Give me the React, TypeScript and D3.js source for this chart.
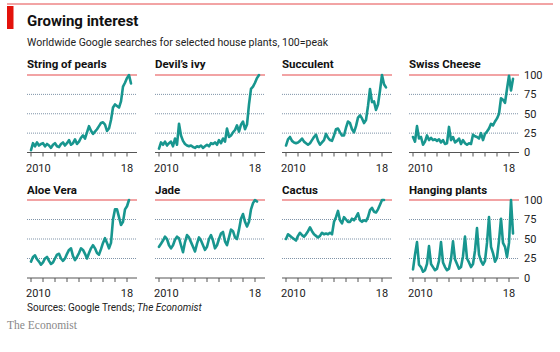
import React from "react";
import * as d3 from "d3";

const W = 560;
const H = 352;

const panelTitles = [
  "String of pearls",
  "Devil\u2019s ivy",
  "Succulent",
  "Swiss Cheese",
  "Aloe Vera",
  "Jade",
  "Cactus",
  "Hanging plants",
];

// bi-monthly index values, starting January 2010
const stringOfPearls = [3, 12, 8, 13, 9, 11, 12, 8, 11, 9, 6, 10, 12, 8, 7, 11, 13, 9, 12, 16, 10, 12, 17, 11, 14, 19, 22, 18, 26, 34, 28, 24, 27, 30, 34, 38, 39, 36, 28, 31, 42, 58, 62, 60, 58, 66, 85, 90, 96, 100, 89];
const devilsIvy = [5, 13, 10, 14, 9, 12, 14, 8, 18, 10, 37, 22, 15, 11, 9, 8, 9, 7, 6, 8, 7, 9, 6, 8, 10, 8, 12, 11, 13, 10, 16, 12, 18, 14, 31, 20, 22, 26, 29, 35, 27, 36, 40, 30, 36, 62, 82, 85, 90, 96, 100];
const succulent = [9, 17, 20, 15, 13, 12, 13, 15, 18, 14, 12, 10, 12, 16, 20, 23, 15, 10, 13, 16, 24, 19, 16, 15, 22, 30, 31, 26, 22, 22, 32, 40, 38, 30, 26, 34, 45, 48, 44, 38, 42, 60, 82, 65, 66, 55, 62, 80, 100, 88, 84];
const swissCheese = [20, 14, 34, 18, 20, 10, 14, 22, 16, 19, 16, 17, 15, 17, 13, 16, 11, 12, 33, 16, 20, 13, 15, 18, 11, 16, 12, 10, 12, 11, 23, 21, 20, 18, 25, 16, 24, 27, 31, 37, 35, 40, 44, 50, 70, 68, 64, 82, 99, 80, 95];
const aloeVera = [21, 27, 29, 24, 21, 17, 20, 25, 27, 22, 18, 20, 25, 30, 31, 25, 22, 25, 31, 36, 38, 28, 23, 27, 32, 38, 36, 31, 25, 32, 38, 42, 38, 32, 30, 37, 45, 51, 45, 38, 45, 75, 88, 88, 78, 68, 72, 88, 92, 100];
const jade = [40, 44, 48, 53, 50, 42, 38, 42, 49, 53, 51, 42, 33, 46, 55, 52, 46, 40, 34, 44, 52, 48, 42, 36, 40, 50, 55, 48, 38, 42, 50, 57, 59, 47, 42, 52, 62, 60, 52, 50, 62, 76, 82, 72, 66, 72, 88, 96, 100, 98];
const cactus = [50, 56, 54, 52, 50, 48, 54, 58, 55, 53, 56, 60, 65, 60, 56, 54, 52, 54, 58, 56, 57, 56, 58, 56, 72, 78, 86, 74, 70, 78, 75, 72, 72, 76, 74, 78, 83, 74, 72, 74, 73, 78, 87, 90, 85, 84, 88, 94, 100, 100];
const hangingPlants = [11, 30, 46, 17, 14, 8, 10, 18, 41, 18, 14, 10, 12, 22, 46, 20, 14, 10, 12, 24, 47, 24, 18, 12, 14, 28, 53, 25, 20, 14, 18, 35, 64, 30, 22, 17, 22, 45, 78, 40, 32, 21, 26, 48, 76, 45, 40, 27, 45, 100, 57];

const seriesList = [stringOfPearls, devilsIvy, succulent, swissCheese, aloeVera, jade, cactus, hangingPlants];

const startYear = 2010;
const stepYears = 1 / 6;
const yTicks = [0, 25, 50, 75, 100];
const yearTicks = [2010, 2011, 2012, 2013, 2014, 2015, 2016, 2017, 2018];
const yearLabels = ["2010", "18"];

const colX = [27, 155, 282, 409];
const panelW = 110;
const rows = [
  { top: 75, bottom: 152.5, titleY: 68, labelY: 172 },
  { top: 200, bottom: 278, titleY: 194, labelY: 297 },
];

const FONT = "Roboto, 'Open Sans', sans-serif";
const TEAL = "#18968f";
const RED = "#e5484a";
const GRID = "#7f93a8";
const AXIS = "#555";

function Panel({ idx }: { idx: number }) {
  const col = idx % 4;
  const row = rows[Math.floor(idx / 4)];
  const x0 = colX[col];
  const x = d3.scaleLinear().domain([2010, 2018]).range([x0 + 4, x0 + 100]);
  const y = d3.scaleLinear().domain([0, 100]).range([row.bottom, row.top]);
  const data = seriesList[idx];
  const line = d3
    .line<number>()
    .x((_, i) => x(startYear + i * stepYears))
    .y((d) => y(d))
    .curve(d3.curveLinear);
  return (
    <g>
      <text x={x0} y={row.titleY} fontFamily={FONT} fontWeight={700} fontSize={11.5} fill="#111">
        {panelTitles[idx]}
      </text>
      {yTicks.slice(1, 4).map((t) => (
        <line key={t} x1={x0} x2={x0 + panelW} y1={y(t)} y2={y(t)} stroke={GRID} strokeWidth={1} strokeDasharray="1,1" />
      ))}
      <line x1={x0} x2={x0 + panelW} y1={y(100)} y2={y(100)} stroke={RED} strokeWidth={1.2} />
      <line x1={x0} x2={x0 + panelW} y1={y(0)} y2={y(0)} stroke={AXIS} strokeWidth={1} />
      {yearTicks.map((t) => (
        <line key={t} x1={x(t)} x2={x(t)} y1={y(0)} y2={y(0) + 4} stroke={AXIS} strokeWidth={1} />
      ))}
      <text x={x0 - 1} y={row.labelY} fontFamily={FONT} fontSize={11} fill="#222">
        {yearLabels[0]}
      </text>
      <text x={x(2018)} y={row.labelY} fontFamily={FONT} fontSize={11} fill="#222" textAnchor="middle">
        {yearLabels[1]}
      </text>
      {col === 3 &&
        yTicks.map((t) => (
          <text key={t} x={x0 + panelW + 5} y={y(t)} dy="0.35em" fontFamily={FONT} fontSize={11} fill="#222">
            {t}
          </text>
        ))}
      <path d={line(data) || ""} fill="none" stroke={TEAL} strokeWidth={2.6} strokeLinejoin="round" strokeLinecap="round" />
    </g>
  );
}

export default function App() {
  return (
    <svg width={W} height={H} style={{ position: "absolute", left: 0, top: 0, background: "#fff" }}>
      <rect x={0} y={0} width={W} height={H} fill="#fff" />
      <line x1={7} x2={553} y1={4} y2={4} stroke={RED} strokeWidth={1} />
      <rect x={7} y={6} width={6.5} height={23} fill="#e3120b" />
      <text x={27} y={26} fontFamily={FONT} fontWeight={700} fontSize={15} fill="#111">
        Growing interest
      </text>
      <text x={27} y={46} fontFamily={FONT} fontSize={10.5} fill="#222">
        Worldwide Google searches for selected house plants, 100=peak
      </text>
      {seriesList.map((_, i) => (
        <Panel key={i} idx={i} />
      ))}
      <text x={27} y={311} fontFamily={FONT} fontSize={10} fill="#222">
        Sources: Google Trends; <tspan fontStyle="italic">The Economist</tspan>
      </text>
      <text x={7} y={329} fontFamily="'Liberation Serif', 'DejaVu Serif', serif" fontSize={11.5} fill="#888">
        The Economist
      </text>
    </svg>
  );
}
